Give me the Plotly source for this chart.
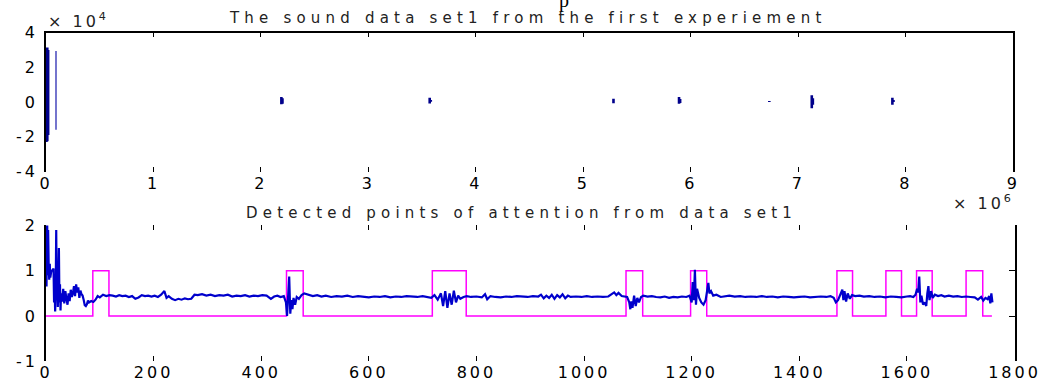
import plotly.graph_objects as go

W, H = 1049, 383

# ---------------- data ----------------
# top panel: sound amplitude bursts (x in units of 1e6 samples, y in units of 1e4)
sound_x_ticks = [0, 1, 2, 3, 4, 5, 6, 7, 8, 9]
sound_y_ticks = [-4, -2, 0, 2, 4]
# (position, low, high) of each visible vertical burst
sound_bursts = [
    (0.004, -2.3, 3.1), (0.012, -2.25, 3.15), (0.02, -1.9, 3.0),
    (2.19, -0.13, 0.3), (2.2, -0.1, 0.22),
    (3.57, -0.08, 0.25), (3.58, 0.02, 0.12),
    (5.28, -0.06, 0.2),
    (5.89, -0.1, 0.3), (5.9, -0.05, 0.18),
    (6.73, 0.0, 0.06),
    (7.125, -0.36, 0.4), (7.135, -0.15, 0.22),
    (7.875, -0.15, 0.25), (7.885, 0.0, 0.12),
]
sound_thin_bursts = [(0.093, -1.6, 2.95)]

# bottom panel
att_x_ticks = [0, 200, 400, 600, 800, 1000, 1200, 1400, 1600, 1800]
att_y_ticks = [-1, 0, 1, 2]
attention = [
    (0, 2.5), (1, 0.65), (2, 2.4), (3, 0.9), (4, 1.9), (5, 1.1), (6, 0.8), (7, 1.15), (8, 0.85),
    (10, 1.0), (12, 1.0), (14, 1.05), (15, 0.3), (16, 0.65), (17, 0.1), (18, 0.5), (19, 1.9),
    (20, 0.35), (21, 0.9), (22, 0.2), (23, 0.6), (24, 1.5), (25, 0.3), (26, 0.7), (27, 0.12),
    (28, 0.5), (30, 0.32), (32, 0.6), (34, 0.28), (36, 0.55), (38, 0.38), (40, 0.25), (42, 0.5),
    (44, 0.33), (46, 0.58), (48, 0.42), (50, 0.5), (52, 0.66), (54, 0.44), (56, 0.7), (58, 0.52),
    (60, 0.63), (62, 0.4), (64, 0.56), (66, 0.48), (68, 0.45), (70, 0.36), (72, 0.24), (74, 0.22),
    (76, 0.26), (78, 0.34), (80, 0.3), (84, 0.33), (88, 0.31), (92, 0.36), (96, 0.44), (100, 0.41),
    (106, 0.47), (112, 0.44), (118, 0.46), (124, 0.45), (130, 0.43), (136, 0.46), (142, 0.44),
    (148, 0.45), (154, 0.42), (160, 0.44), (166, 0.38), (172, 0.41), (178, 0.46), (184, 0.44),
    (190, 0.45), (196, 0.43), (202, 0.45), (208, 0.42), (214, 0.47), (220, 0.55), (224, 0.4),
    (228, 0.44), (234, 0.38), (240, 0.35), (246, 0.38), (252, 0.36), (258, 0.39), (264, 0.37),
    (270, 0.38), (276, 0.47), (282, 0.46), (290, 0.48), (298, 0.45), (306, 0.47), (314, 0.44),
    (322, 0.46), (330, 0.45), (338, 0.47), (346, 0.43), (354, 0.45), (362, 0.44), (370, 0.46),
    (378, 0.43), (386, 0.45), (394, 0.44), (402, 0.46), (410, 0.45), (418, 0.38), (424, 0.43),
    (430, 0.45), (436, 0.42), (442, 0.44), (446, 0.3), (448, 0.0), (450, 0.6), (452, 0.87),
    (454, 0.05), (456, 0.35), (458, 0.15), (460, 0.4), (463, 0.25), (466, 0.42), (470, 0.38),
    (475, 0.46), (480, 0.5), (488, 0.47), (496, 0.44), (504, 0.46), (512, 0.43), (520, 0.45),
    (530, 0.42), (540, 0.44), (550, 0.43), (560, 0.45), (570, 0.42), (580, 0.44), (590, 0.43),
    (600, 0.41), (610, 0.43), (620, 0.42), (630, 0.44), (640, 0.41), (650, 0.43), (660, 0.42),
    (670, 0.44), (680, 0.43), (690, 0.42), (700, 0.44), (710, 0.42), (716, 0.4), (722, 0.46),
    (728, 0.36), (734, 0.5), (738, 0.22), (742, 0.55), (746, 0.18), (750, 0.5), (754, 0.25),
    (758, 0.56), (762, 0.3), (766, 0.45), (770, 0.38), (776, 0.42), (782, 0.44), (790, 0.42),
    (800, 0.43), (810, 0.41), (816, 0.48), (820, 0.37), (826, 0.44), (835, 0.42), (845, 0.41),
    (855, 0.43), (865, 0.42), (875, 0.44), (885, 0.43), (895, 0.42), (905, 0.44), (915, 0.43),
    (920, 0.47), (925, 0.39), (930, 0.45), (935, 0.4), (940, 0.47), (945, 0.38), (950, 0.46),
    (955, 0.41), (960, 0.48), (965, 0.39), (970, 0.45), (975, 0.42), (985, 0.43), (995, 0.42),
    (1005, 0.44), (1015, 0.42), (1025, 0.43), (1035, 0.42), (1045, 0.43), (1052, 0.48),
    (1056, 0.52), (1060, 0.46), (1064, 0.51), (1070, 0.44), (1076, 0.43), (1080, 0.42),
    (1084, 0.3), (1086, 0.15), (1088, 0.32), (1090, 0.18), (1093, 0.45), (1096, 0.22),
    (1099, 0.4), (1102, 0.3), (1106, 0.42), (1110, 0.45), (1118, 0.43), (1126, 0.44),
    (1134, 0.42), (1142, 0.41), (1150, 0.43), (1158, 0.4), (1166, 0.42), (1174, 0.41),
    (1182, 0.43), (1190, 0.42), (1196, 0.45), (1200, 0.3), (1202, 0.75), (1204, 0.35),
    (1206, 1.02), (1208, 0.25), (1210, 0.6), (1214, 0.4), (1218, 0.3), (1222, 0.25),
    (1226, 0.35), (1229, 0.6), (1231, 0.73), (1233, 0.5), (1236, 0.55), (1240, 0.45),
    (1246, 0.47), (1254, 0.42), (1262, 0.44), (1270, 0.45), (1280, 0.43), (1290, 0.44),
    (1300, 0.42), (1310, 0.43), (1320, 0.42), (1330, 0.44), (1340, 0.42), (1350, 0.43),
    (1360, 0.41), (1370, 0.43), (1380, 0.42), (1390, 0.41), (1400, 0.42), (1410, 0.43),
    (1420, 0.41), (1430, 0.42), (1440, 0.43), (1450, 0.42), (1458, 0.44), (1464, 0.4),
    (1468, 0.3), (1472, 0.35), (1476, 0.45), (1478, 0.5), (1480, 0.58), (1482, 0.35),
    (1484, 0.55), (1487, 0.32), (1490, 0.5), (1494, 0.38), (1498, 0.46), (1504, 0.44),
    (1512, 0.45), (1520, 0.43), (1530, 0.44), (1540, 0.42), (1550, 0.43), (1560, 0.41),
    (1570, 0.43), (1580, 0.42), (1590, 0.41), (1600, 0.43), (1606, 0.44), (1612, 0.42),
    (1616, 0.47), (1619, 0.6), (1621, 0.52), (1623, 0.87), (1625, 0.3), (1627, 0.45),
    (1630, 0.25), (1633, 0.3), (1636, 0.22), (1638, 0.5), (1640, 0.66), (1642, 0.35),
    (1645, 0.55), (1648, 0.4), (1652, 0.47), (1658, 0.44), (1664, 0.46), (1670, 0.43),
    (1678, 0.45), (1686, 0.43), (1694, 0.44), (1702, 0.42), (1710, 0.43), (1718, 0.42),
    (1726, 0.41), (1732, 0.36), (1738, 0.42), (1742, 0.34), (1746, 0.4), (1750, 0.37),
    (1753, 0.44), (1755, 0.28), (1757, 0.5), (1759, 0.3),
]
pulse_starts = [87, 447, 718, 1078, 1198, 1470, 1561, 1618, 1710]
pulse_ends = [117, 478, 781, 1109, 1228, 1499, 1590, 1647, 1741]
pulse_last_x = 1758

title_top = "The sound data set1 from the first experiement"
title_bottom = "Detected points of attention from data set1"

# ---------------- build traces ----------------
def bursts_to_xy(bursts):
    xs, ys = [], []
    for x, lo, hi in bursts:
        xs += [x, x, None]
        ys += [lo, hi, None]
    return xs, ys

bx, by = bursts_to_xy(sound_bursts)
tx, ty = bursts_to_xy(sound_thin_bursts)
att_x = [p[0] for p in attention]
att_y = [p[1] for p in attention]

px_, py_ = [0], [0]
for s, e in zip(pulse_starts, pulse_ends):
    px_ += [s, s, e, e]
    py_ += [0, 1, 1, 0]
px_.append(pulse_last_x)
py_.append(0)

fig = go.Figure()
fig.add_trace(go.Scatter(x=bx, y=by, mode="lines", line=dict(color="#00008b", width=2.6),
                         xaxis="x", yaxis="y", showlegend=False, hoverinfo="skip"))
fig.add_trace(go.Scatter(x=tx, y=ty, mode="lines", line=dict(color="#3a3ab8", width=1.4),
                         xaxis="x", yaxis="y", showlegend=False, hoverinfo="skip"))
fig.add_trace(go.Scatter(x=px_, y=py_, mode="lines", line=dict(color="#ff00ff", width=1.5),
                         xaxis="x2", yaxis="y2", showlegend=False, hoverinfo="skip"))
fig.add_trace(go.Scatter(x=att_x, y=att_y, mode="lines", line=dict(color="#0000cc", width=2.2),
                         xaxis="x2", yaxis="y2", showlegend=False, hoverinfo="skip"))
# placeholder traces so that the overlay (frame) axes get drawn
for xa, ya in [("x3", "y"), ("x", "y3"), ("x4", "y2"), ("x2", "y4")]:
    fig.add_trace(go.Scatter(x=[None], y=[None], mode="lines", xaxis=xa, yaxis=ya,
                             showlegend=False, hoverinfo="skip"))

FONT = "DejaVu Sans"
tickfont = dict(family=FONT, size=16, color="black")

def sp(t, ls):
    return f'<span style="letter-spacing:{ls}px">{t}</span>'

top_dom_x = [46 / W, 1013.3 / W]
top_dom_y = [1 - 171.5 / H, 1 - 32.7 / H]
bot_dom_x = [46 / W, 1014.5 / W]
bot_dom_y = [1 - 361.3 / H, 1 - 225.4 / H]

common_x = dict(ticks="inside", ticklen=5, tickwidth=1, tickcolor="black", showgrid=False,
                zeroline=False, showline=False, tickfont=tickfont)

fig.update_layout(
    width=W, height=H,
    margin=dict(l=0, r=0, t=0, b=0, autoexpand=False),
    paper_bgcolor="white", plot_bgcolor="white",
    font=dict(family=FONT, size=16, color="black"),
    title=dict(text="p", x=564 / W, xanchor="center", y=1.0, yanchor="middle",
               yref="container", font=dict(family="Liberation Serif", size=20, color="black")),
    xaxis=dict(domain=top_dom_x, anchor="y", range=[0, 9], tickvals=sound_x_ticks,
               ticktext=[sp(str(v), 3) for v in sound_x_ticks], **common_x),
    xaxis3=dict(domain=top_dom_x, anchor="y", overlaying="x", side="top", range=[0, 9],
                tickvals=sound_x_ticks, showticklabels=False, ticks="inside", ticklen=5,
                tickcolor="black", showline=True, linecolor="black", linewidth=1.5,
                showgrid=False, zeroline=False),
    yaxis=dict(domain=top_dom_y, anchor="x", range=[-4, 4], tickvals=sound_y_ticks,
               ticktext=[sp(str(v), 3) for v in sound_y_ticks],
               ticks="", showline=True, linecolor="black", linewidth=1.5, showgrid=False,
               zeroline=False, tickfont=tickfont, ticklabelstandoff=3),
    yaxis3=dict(domain=top_dom_y, anchor="x", overlaying="y", side="right", range=[-4, 4],
                showticklabels=False, ticks="", showline=True, linecolor="black",
                linewidth=1.5, showgrid=False, zeroline=False),
    xaxis2=dict(domain=bot_dom_x, anchor="y2", range=[0, 1800], tickvals=att_x_ticks,
                ticktext=[sp(str(v), 3) for v in att_x_ticks], **common_x),
    xaxis4=dict(domain=bot_dom_x, anchor="y2", overlaying="x2", side="top", range=[0, 1800],
                tickvals=att_x_ticks, showticklabels=False, ticks="inside", ticklen=5,
                tickcolor="black", showline=False, showgrid=False, zeroline=False),
    yaxis2=dict(domain=bot_dom_y, anchor="x2", range=[-1, 2], tickvals=att_y_ticks,
                ticktext=[sp(str(v), 3) for v in att_y_ticks],
                ticks="", showline=True, linecolor="black", linewidth=1.5, showgrid=False,
                zeroline=False, tickfont=tickfont, ticklabelstandoff=3),
    yaxis4=dict(domain=bot_dom_y, anchor="x2", overlaying="y2", side="right", range=[-1, 2],
                tickvals=[0, 1], showticklabels=False, ticks="inside", ticklen=6,
                tickcolor="black", showline=True, linecolor="black", linewidth=1.5,
                showgrid=False, zeroline=False),
)

ann = []
ann.append(dict(text=sp(title_top, 5.2), x=527 / W, y=1 - 18 / H, xref="paper", yref="paper",
                showarrow=False, xanchor="center", yanchor="middle",
                font=dict(family=FONT, size=15, color="#222")))
ann.append(dict(text=sp(title_bottom, 5.2), x=521 / W, y=1 - 213 / H, xref="paper", yref="paper",
                showarrow=False, xanchor="center", yanchor="middle",
                font=dict(family=FONT, size=15, color="#222")))
ann.append(dict(text=sp("× 10<sup>4</sup>", 3), x=46 / W, y=1 - 20 / H, xref="paper", yref="paper",
                showarrow=False, xanchor="left", yanchor="middle",
                font=dict(family=FONT, size=16, color="#222")))
ann.append(dict(text=sp("× 10<sup>6</sup>", 3), x=1016 / W, y=1 - 202 / H, xref="paper", yref="paper",
                showarrow=False, xanchor="right", yanchor="middle",
                font=dict(family=FONT, size=16, color="#222")))
fig.update_layout(annotations=ann)

fig.write_html("out.html", config={"displayModeBar": False},
               post_script="document.body.style.margin='0';document.body.style.overflow='hidden';")
